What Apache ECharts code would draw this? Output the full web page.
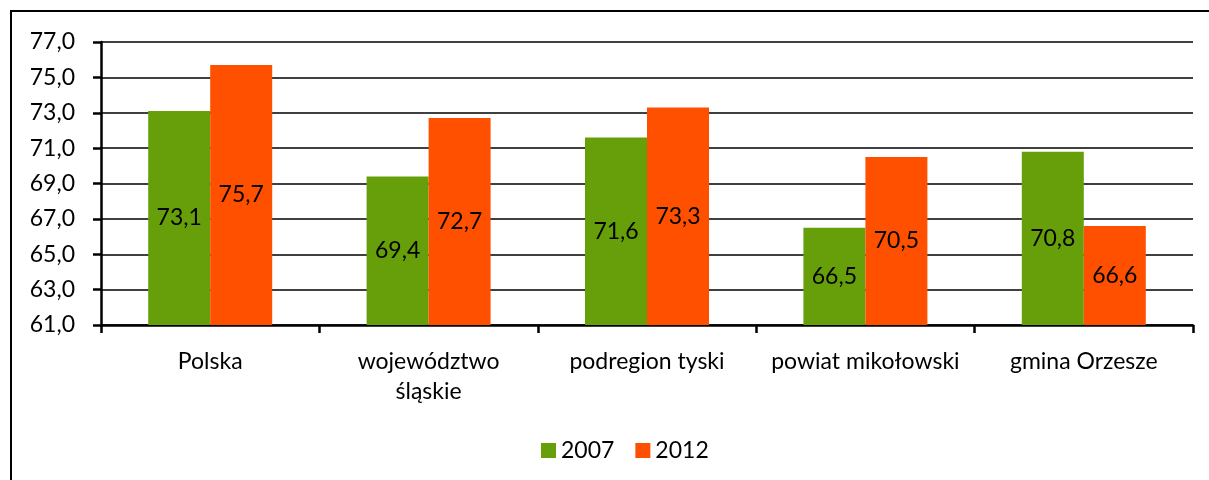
<!DOCTYPE html>
<html><head><meta charset="utf-8">
<script src="https://cdn.jsdelivr.net/npm/echarts@6/dist/echarts.min.js"></script>
<style>html,body{margin:0;padding:0;overflow:hidden;background:#fff}#c{width:1209px;height:480px}</style>
</head><body><div id="c"></div>
<script>
const categories = ["Polska", "województwo\nśląskie", "podregion tyski", "powiat mikołowski", "gmina Orzesze"];
const series2007 = [73.1, 69.4, 71.6, 66.5, 70.8];
const series2012 = [75.7, 72.7, 73.3, 70.5, 66.6];
const seriesNames = ["2007", "2012"];
const FONT = "Lato";
const fmt = v => v.toFixed(1).replace('.', ',');
const chart = echarts.init(document.getElementById('c'));
chart.setOption({
  animation: false,
  textStyle: {fontFamily: FONT, color: '#000'},
  graphic: [{type: 'rect', shape: {x: 11, y: 11, width: 1260, height: 520}, style: {fill: 'none', stroke: '#000', lineWidth: 2}, silent: true}],
  grid: {left: 101, right: 16, top: 42, bottom: 155},
  legend: {
    top: 434, left: 536, itemWidth: 15, itemHeight: 15, itemGap: 21,
    icon: 'rect', textStyle: {fontFamily: FONT, fontSize: 23, color: '#000'},
    data: seriesNames
  },
  xAxis: {
    type: 'category', data: categories,
    axisLine: {lineStyle: {color: '#000', width: 2.5}},
    axisTick: {show: true, length: 8, lineStyle: {color: '#000', width: 2.5}},
    axisLabel: {fontFamily: FONT, fontSize: 23, color: '#000', margin: 22, lineHeight: 30, interval: 0}
  },
  yAxis: {
    type: 'value', min: 61, max: 77, interval: 2,
    axisLine: {show: true, lineStyle: {color: '#000', width: 2.5}},
    axisTick: {show: true, length: 8, lineStyle: {color: '#000', width: 2.5}},
    splitLine: {lineStyle: {color: '#000', width: 1.6}},
    axisLabel: {fontFamily: FONT, fontSize: 23, color: '#000', margin: 26, formatter: v => fmt(v)}
  },
  series: [
    {name: seriesNames[0], type: 'bar', data: series2007, barWidth: 62, barGap: '0%',
     itemStyle: {color: '#669F0A'},
     label: {show: true, position: 'inside', fontFamily: FONT, fontSize: 23, color: '#000', formatter: p => fmt(p.value)}},
    {name: seriesNames[1], type: 'bar', data: series2012, barWidth: 62, barGap: '0%',
     itemStyle: {color: '#FF5000'},
     label: {show: true, position: 'inside', fontFamily: FONT, fontSize: 23, color: '#000', formatter: p => fmt(p.value)}}
  ]
});
</script></body></html>
